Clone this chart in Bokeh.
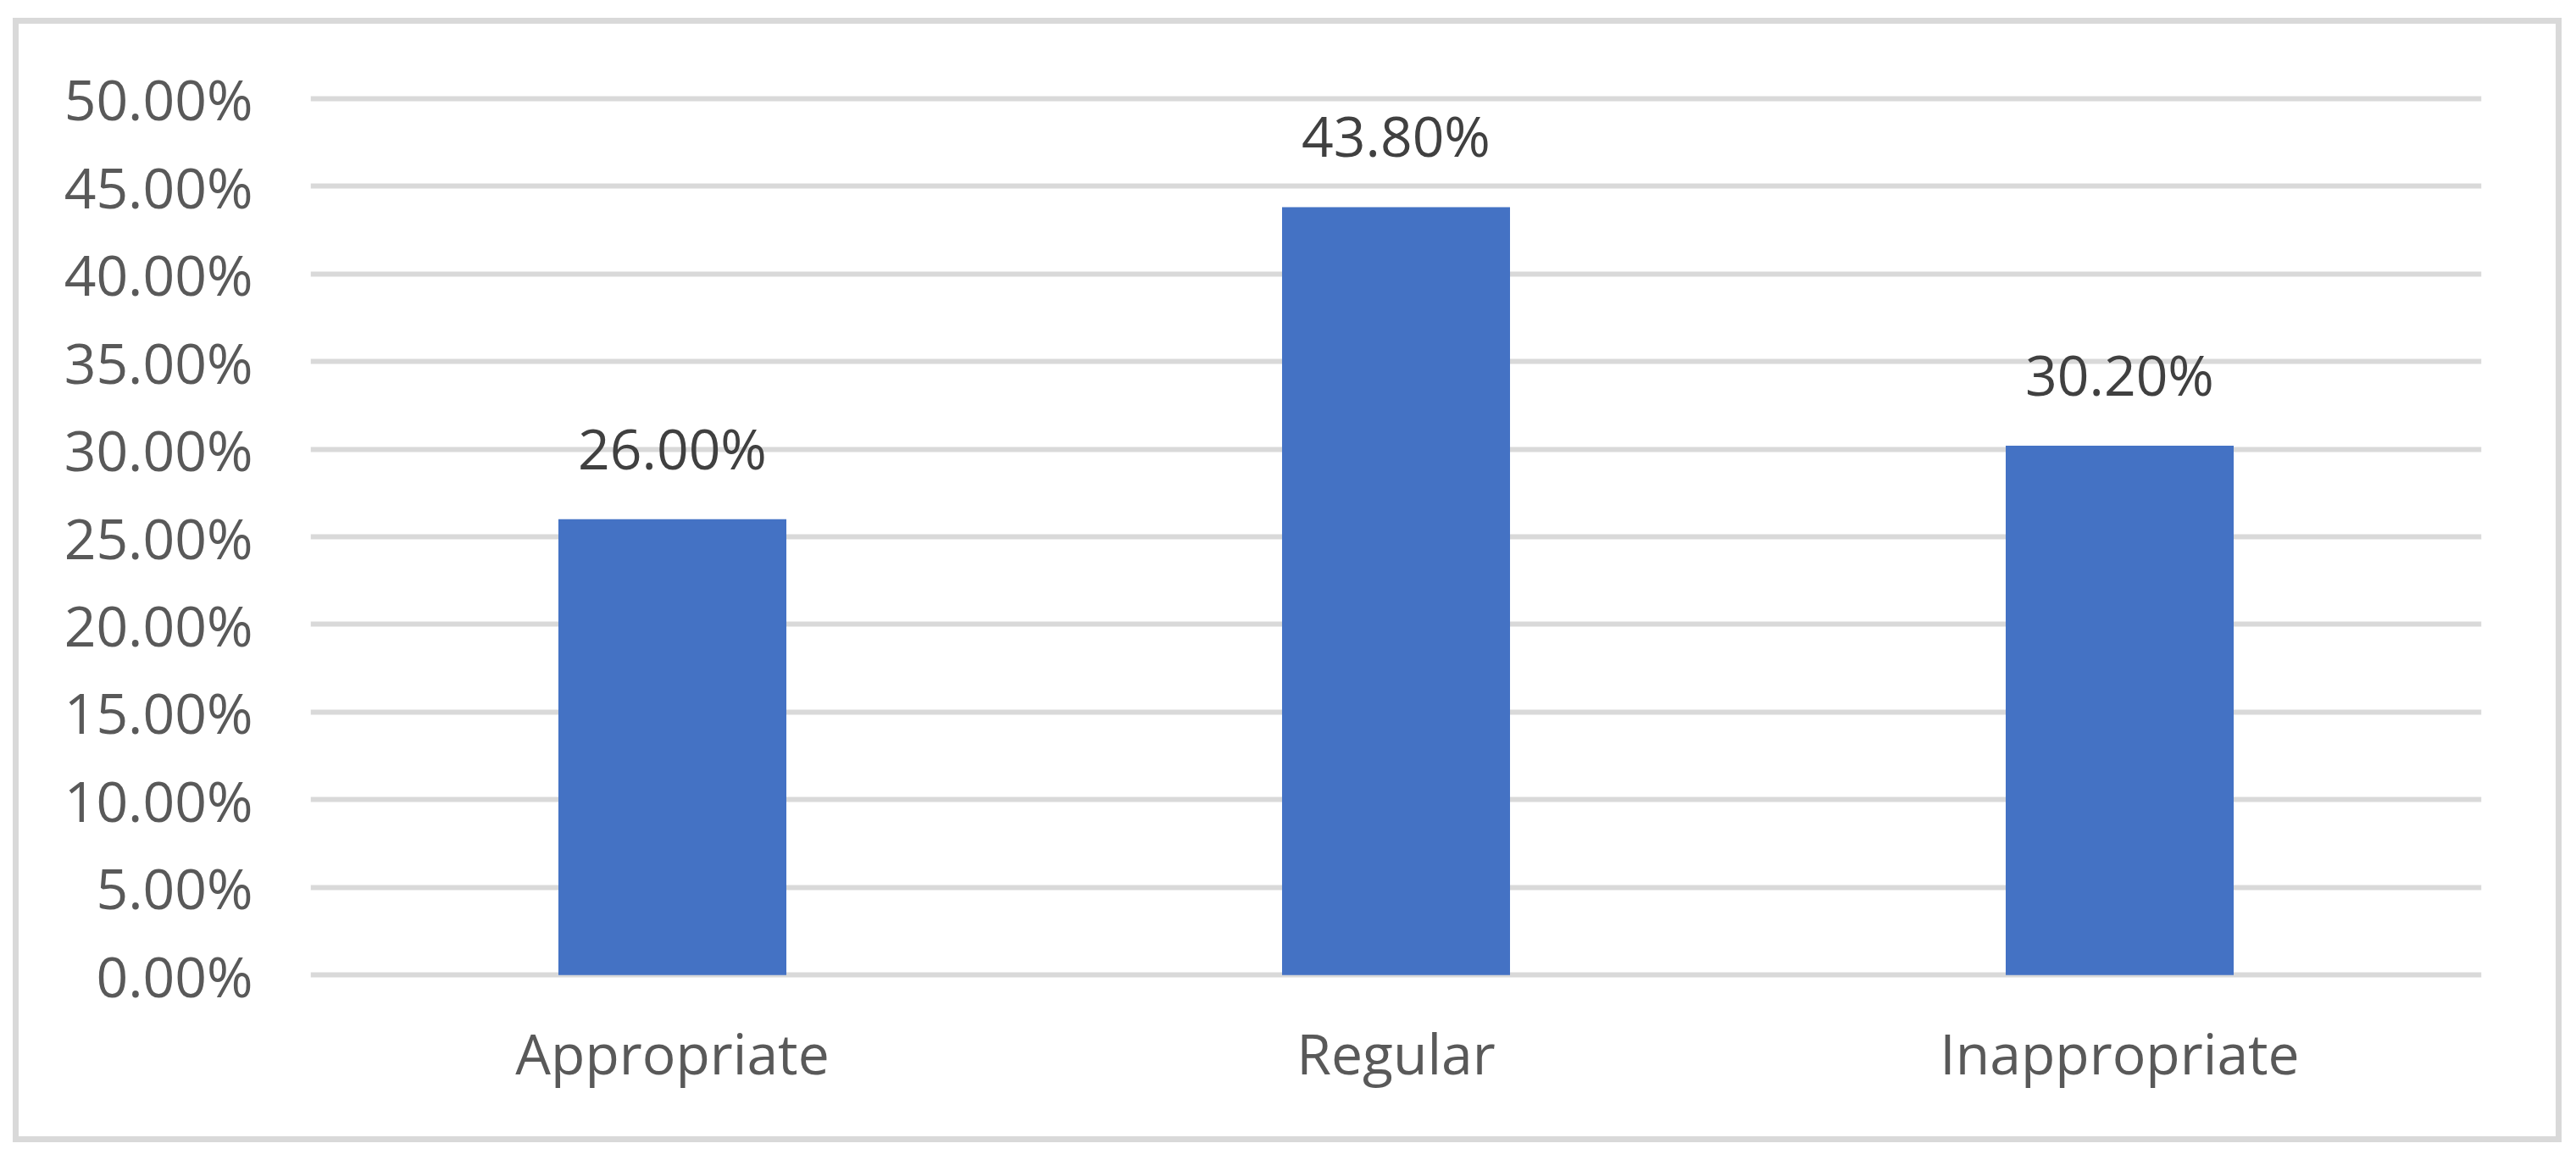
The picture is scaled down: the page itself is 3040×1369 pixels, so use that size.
from bokeh.plotting import figure
from bokeh.models import Range1d, FactorRange, FixedTicker, NumeralTickFormatter, ColumnDataSource
from bokeh.core.properties import value
from bokeh.embed import file_html
from bokeh.resources import INLINE

categories = ["Appropriate", "Regular", "Inappropriate"]
shares = [0.26, 0.438, 0.302]
y_ticks = [0.0, 0.05, 0.10, 0.15, 0.20, 0.25, 0.30, 0.35, 0.40, 0.45, 0.50]
labels = [f"{v * 100:.2f}%" for v in shares]

FONT = "Open Sans"
FS = "66px"

src = ColumnDataSource(data=dict(cat=categories, val=shares, lab=labels))

p = figure(
    width=3038, height=1357,
    x_range=FactorRange(*categories),
    y_range=Range1d(-0.01, 0.51),
    output_backend="svg", toolbar_location=None, tools="",
    min_border_left=366, min_border_right=110,
    min_border_top=89, min_border_bottom=192,
)
p.margin = (6, 0, 0, 0)
# chart border drawn by CSS behind the transparent canvas
p.styles = {
    "outline": "7px solid #D9D9D9",
    "outline-offset": "-22px",
    "border-radius": "6px",
    "background-color": "white",
}
p.background_fill_color = None
p.border_fill_color = None
p.outline_line_color = None

p.vbar(x="cat", top="val", bottom=0, width=0.315, source=src,
       fill_color="#4472C4", line_color=None)

p.text(x="cat", y="val", text="lab", source=src, y_offset=-85,
       text_align="center", text_baseline="alphabetic",
       text_font=value(FONT), text_font_size=FS, text_color="#404040")

# axes
p.yaxis.ticker = FixedTicker(ticks=y_ticks)
p.yaxis.formatter = NumeralTickFormatter(format="0.00%")
for ax in (p.xaxis[0], p.yaxis[0]):
    ax.axis_line_color = None
    ax.major_tick_line_color = None
    ax.minor_tick_line_color = None
    ax.major_tick_out = 0
    ax.major_tick_in = 0
    ax.major_label_text_font = FONT
    ax.major_label_text_font_size = FS
    ax.major_label_text_color = "#595959"
p.yaxis.major_label_standoff = 68
p.xaxis.major_label_standoff = 25

p.xgrid.grid_line_color = None
p.ygrid.grid_line_color = "#D9D9D9"
p.ygrid.grid_line_width = 6
p.ygrid.ticker = FixedTicker(ticks=y_ticks)

open("out.html", "w").write(file_html(p, INLINE))
